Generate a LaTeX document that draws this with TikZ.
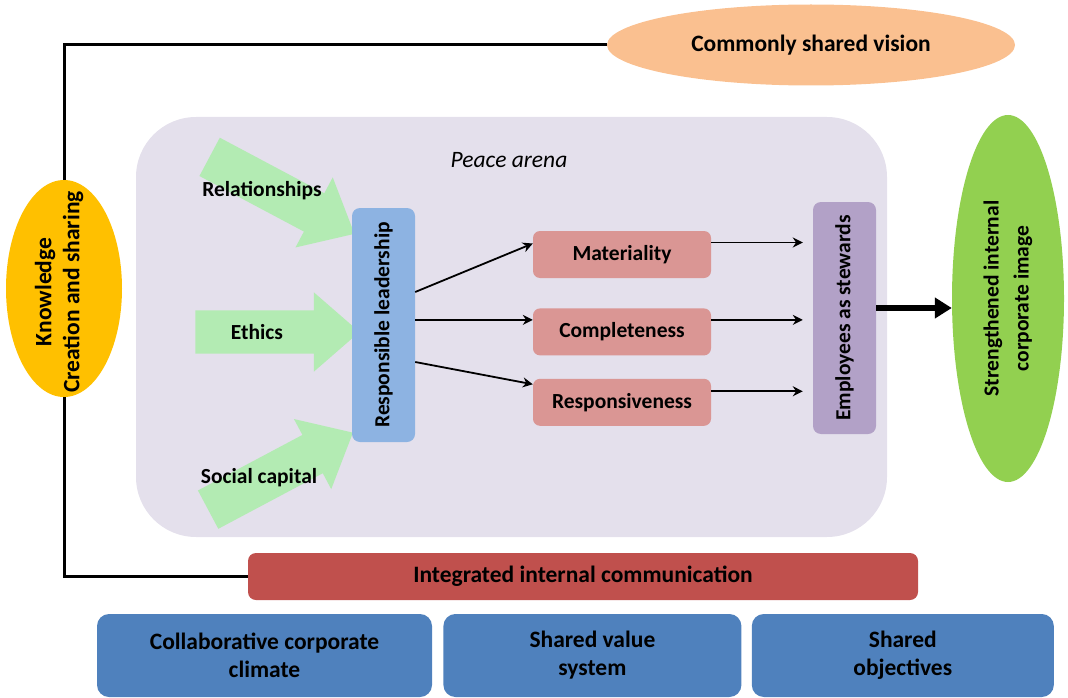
\documentclass[tikz,border=0pt]{standalone}
\usepackage{fontspec}
\setmainfont{Carlito}
\usetikzlibrary{shapes,shapes.arrows,arrows.meta,positioning,calc}

\definecolor{arenabg}{HTML}{E4E0EC}
\definecolor{inflow}{HTML}{B3EBB3}
\definecolor{leadblue}{HTML}{8DB3E2}
\definecolor{qualpink}{HTML}{DA9694}
\definecolor{stewardlilac}{HTML}{B2A1C7}
\definecolor{imagegreen}{HTML}{92D050}
\definecolor{visionorange}{HTML}{FAC090}
\definecolor{knowgold}{HTML}{FFC000}
\definecolor{commred}{HTML}{C0504D}
\definecolor{baseblue}{HTML}{4F81BD}

\tikzset{
  fatarrow/.style={single arrow, fill=inflow, inner xsep=0pt, inner ysep=21.5pt, minimum height=164pt, minimum width=79pt, single arrow head extend=18pt, single arrow tip angle=82},
  pinkbox/.style={rectangle, fill=qualpink, rounded corners=7pt, minimum width=178pt, minimum height=47pt},
  tallbox/.style={rectangle, rounded corners=8pt, minimum width=63pt, minimum height=234pt},
  bigtext/.style={font=\bfseries\fontsize{23.5}{28}\selectfont},
  basebox/.style={rectangle, fill=baseblue, rounded corners=12pt, minimum height=83pt, align=center, bigtext},
  link/.style={line width=3pt},
  flow/.style={line width=1.8pt, -{Stealth[length=10pt,width=10pt]}},
}

\begin{document}
\begin{tikzpicture}[x=1pt,y=-1pt, font=\bfseries\fontsize{21.5}{26}\selectfont]
\useasboundingbox (0,0) rectangle (1068,698);

\node[rectangle, fill=arenabg, rounded corners=60pt, minimum width=751pt, minimum height=420pt] (arena) at (511.5,327) {};
\node[font=\itshape\fontsize{23.5}{28}\selectfont] (arenatitle) at (509,160) {Peace arena};

\node[fatarrow, rotate=-28] (relarrow) at (271,189.5) {};
\node[fatarrow] (etharrow) at (265,332) {};
\node[fatarrow, rotate=28] (socarrow) at (269.5,477) {};
\node (rel) at (262,191) {Relationships};
\node (eth) at (257,332) {Ethics};
\node (soc) at (259,478) {Social capital};

\node[tallbox, fill=leadblue] (lead) at (383.5,325) {\rotatebox{90}{Responsible leadership}};
\node[pinkbox] (mat) at (622,254.5) {Materiality};
\node[pinkbox, below=30pt of mat] (comp) {Completeness};
\node[pinkbox, below=23pt of comp] (resp) {Responsiveness};
\node[tallbox, fill=stewardlilac, minimum height=232pt] (emp) at (844.5,318) {\rotatebox{90}{Employees as stewards}};

\node[ellipse, fill=imagegreen, minimum width=112pt, minimum height=367pt] (image) at (1008,298.5) {};
\node[rotate=90, align=center, font=\bfseries\fontsize{21.5}{30}\selectfont] (imagetxt) at (image) {Strengthened internal\\corporate image};
\node[ellipse, fill=visionorange, minimum width=408pt, minimum height=81pt, bigtext] (vision) at (811,45) {Commonly shared vision};
\node[ellipse, fill=knowgold, minimum width=116pt, minimum height=217pt] (know) at (64,288.5) {};
\node[rotate=90, align=center, bigtext] (knowtxt) at (59,292) {Knowledge\\Creation and sharing};

\node[rectangle, fill=commred, rounded corners=8pt, minimum width=670pt, minimum height=47pt, bigtext] (comm) at (583,576.5) {Integrated internal communication};
\node[basebox, minimum width=335pt] (climate) at (264.5,655.5) {Collaborative corporate\\climate};
\node[basebox, minimum width=298pt, right=11pt of climate] (values) {Shared value\\system};
\node[basebox, minimum width=302pt, right=10pt of values] (objectives) {Shared\\objectives};

\draw[link] (know.north) |- (vision.west);
\draw[link] (know.south) |- (comm.west);

\draw[flow] ([yshift=33pt]lead.east) -- ([yshift=11pt]mat.west);
\draw[flow] ([yshift=12pt]comp.west -| lead.east) -- ([yshift=12pt]comp.west);
\draw[flow] ([yshift=-37pt]lead.east) -- ([yshift=18pt]resp.west);
\foreach \q/\s in {mat/12,comp/12,resp/11}
  \draw[flow, shorten >=10pt] ([yshift=\s pt]\q.east) -- ([yshift=\s pt]\q.east -| emp.west);
\draw[line width=6pt, -{Triangle[length=17pt,width=20pt]}] ([yshift=10pt]emp.east) -- ([yshift=10pt]emp.east -| image.west);
\end{tikzpicture}
\end{document}
